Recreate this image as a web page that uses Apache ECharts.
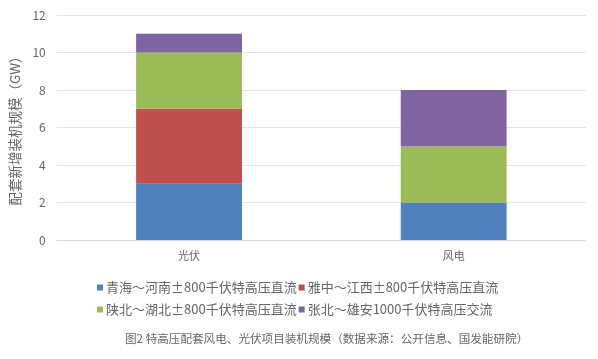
<!DOCTYPE html>
<html>
<head>
<meta charset="utf-8">
<script src="https://cdn.jsdelivr.net/npm/echarts@6/dist/echarts.min.js"></script>
<style>
  html, body { margin: 0; padding: 0; background: #fff; }
  #chart { width: 598px; height: 359px; }
</style>
</head>
<body>
<div id="chart"></div>
<script>
// Categories and stacked values (GW)
const categories = ['光伏', '风电'];
const seriesNames = [
  '青海～河南±800千伏特高压直流',
  '雅中～江西±800千伏特高压直流',
  '陕北～湖北±800千伏特高压直流',
  '张北～雄安1000千伏特高压交流'
];
const qinghaiHenan = [3, 2];
const yazhongJiangxi = [4, 0];
const shaanbeiHubei = [3, 3];
const zhangbeiXiongan = [1, 3];
const seriesColors = ['#4F81BD', '#C0504D', '#9BBB59', '#8064A2'];
const yAxisName = '配套新增装机规模（GW）';
const caption = '图2 特高压配套风电、光伏项目装机规模（数据来源：公开信息、国发能研院）';

const FONT = '"Noto Sans CJK SC", "Microsoft YaHei", sans-serif';
const textColor = '#666';
const valueSets = [qinghaiHenan, yazhongJiangxi, shaanbeiHubei, zhangbeiXiongan];

const chart = echarts.init(document.getElementById('chart'), null, { renderer: 'canvas' });

const legendCommon = {
  itemWidth: 6,
  itemHeight: 6,
  itemGap: 2,
  icon: 'rect',
  textStyle: { color: textColor, fontSize: 13, fontFamily: FONT, padding: [0, 0, 0, -2] }
};

chart.setOption({
  animation: false,
  textStyle: { fontFamily: FONT },
  grid: { left: 53, right: 12, top: 15, bottom: 119 },
  legend: [
    Object.assign({ data: seriesNames.slice(0, 2), left: 92, top: 276 }, legendCommon),
    Object.assign({ data: seriesNames.slice(2, 4), left: 92, top: 298 }, legendCommon)
  ],
  graphic: [{
    type: 'text',
    left: 125,
    top: 333,
    style: { text: caption, fill: textColor, font: '11.6px ' + FONT }
  }],
  xAxis: {
    type: 'category',
    data: categories,
    axisLine: { lineStyle: { color: '#d9d9d9' } },
    axisTick: { show: false },
    axisLabel: { color: textColor, fontSize: 11, margin: 10 }
  },
  yAxis: {
    type: 'value',
    min: 0,
    max: 12,
    interval: 2,
    name: yAxisName,
    nameLocation: 'middle',
    nameGap: 23,
    nameRotate: 90,
    nameTextStyle: { color: textColor, fontSize: 13.5 },
    axisLine: { show: false },
    axisTick: { show: false },
    axisLabel: { color: textColor, fontSize: 12, margin: 11 },
    splitLine: { lineStyle: { color: '#e3e3e3' } }
  },
  series: seriesNames.map((name, i) => ({
    name: name,
    type: 'bar',
    stack: 'total',
    barWidth: '40%',
    data: valueSets[i],
    itemStyle: { color: seriesColors[i] }
  }))
});
</script>
</body>
</html>
